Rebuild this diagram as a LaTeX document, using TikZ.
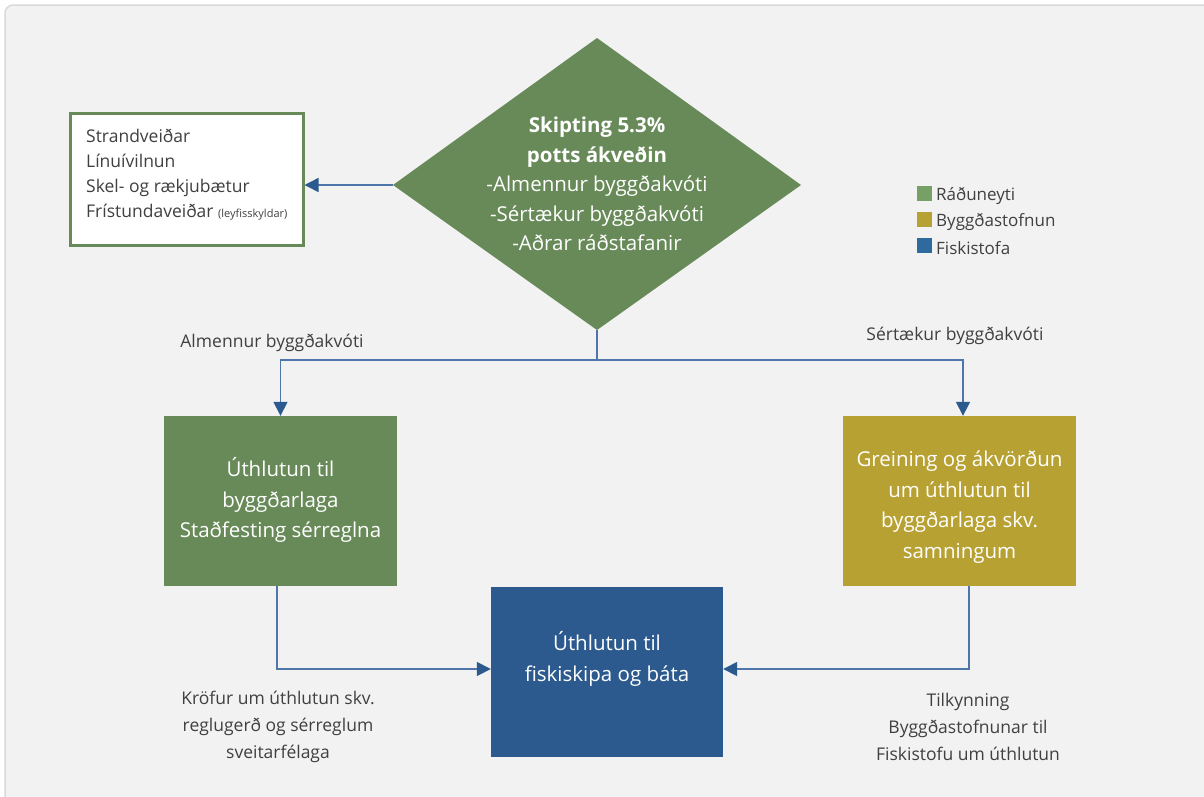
\documentclass[tikz,border=0pt]{standalone}
\usepackage{fontspec}
\setmainfont{Open Sans}
\usetikzlibrary{arrows.meta}
\definecolor{panel}{HTML}{F2F2F2}
\definecolor{panelline}{HTML}{D9D9D9}
\definecolor{mgreen}{HTML}{678A58}
\definecolor{lgreen}{HTML}{76A065}
\definecolor{mgold}{HTML}{B8A133}
\definecolor{mblue}{HTML}{2C5A8E}
\definecolor{lblue}{HTML}{2E6A9E}
\definecolor{conn}{HTML}{4E76AA}
\definecolor{tip}{HTML}{2B5A8F}
\definecolor{txt}{HTML}{404040}
\tikzset{
  x=1pt,y=-1pt,
  conline/.style={draw=conn,line width=1.5pt},
  arr/.style={conline,-{Triangle[width=14pt,length=14pt,fill=tip,color=tip]}},
  boxstyle/.style={rectangle,inner sep=0pt,minimum width=233pt,minimum height=170pt},
  boxtext/.style={text=white,align=center,font=\fontsize{20.5}{30.5}\selectfont},
  lab/.style={text=txt,align=center,font=\fontsize{17.5}{27}\selectfont},
  legbox/.style={rectangle,inner sep=0pt,minimum width=15pt,minimum height=15pt},
  legtext/.style={text=txt,anchor=west,inner sep=0pt,font=\fontsize{17}{20}\selectfont},
}
\begin{document}
\begin{tikzpicture}
\useasboundingbox (0,0) rectangle (1204,796);
\fill[white] (0,0) rectangle (1204,796);
\draw[panelline,fill=panel,line width=1.5pt,rounded corners=8pt] (5,5) rectangle (1215,810);

% left box
\node[rectangle,draw=mgreen,line width=3pt,fill=white,minimum width=233pt,minimum height=132pt,inner sep=0pt] (lbox) at (186.5,179) {};
\node[anchor=west,text=txt,align=left,inner sep=0pt,font=\fontsize{17.5}{25}\selectfont] (ltext) at (86,175)
 {Strandveiðar\\Línuívilnun\\Skel- og rækjubætur\\Frístundaveiðar {\fontsize{11}{12}\selectfont(leyfisskyldar)}};

% diamond
\coordinate (diaN) at (597,38);
\coordinate (diaW) at (393,185);
\coordinate (diaE) at (801,185);
\coordinate (diaS) at (597,330);
\fill[mgreen] (diaN) -- (diaE) -- (diaS) -- (diaW) -- cycle;
\node[text=white,align=center,font=\fontsize{20.5}{29.5}\selectfont] (dia) at (597,184)
 {\textbf{Skipting 5.3\%}\\\textbf{potts ákveðin}\\-Almennur byggðakvóti\\-Sértækur byggðakvóti\\-Aðrar ráðstafanir};

% boxes
\node[boxstyle,fill=mgreen] (gbox) at (280.5,501) {};
\node[boxtext] (gtext) at (280.5,500) {Úthlutun til\\byggðarlaga\\Staðfesting sérreglna};
\node[boxstyle,fill=mgold] (ybox) at (959.5,501) {};
\node[boxtext] (ytext) at (959.5,507) {Greining og ákvörðun\\um úthlutun til\\byggðarlaga skv.\\samningum};
\node[boxstyle,minimum width=232pt,fill=mblue] (bbox) at (607,672) {};
\node[boxtext] (btext) at (607,659) {Úthlutun til\\fiskiskipa og báta};

% connectors
\draw[arr] (diaW) -- (lbox.east |- diaW);
\coordinate (j) at (597,360);
\draw[conline] (diaS) -- (j);
\draw[arr] (j) -| (gbox.north);
\draw[arr] (j) -| ([xshift=3.5pt]ybox.north);
\draw[arr] ([xshift=-3.5pt]gbox.south) |- ([yshift=3pt]bbox.west);
\draw[arr] ([xshift=9.5pt]ybox.south) |- ([yshift=3pt]bbox.east);

% labels
\node[lab] (l1) at (272,343) {Almennur byggðakvóti};
\node[lab] (l2) at (955,336) {Sértækur byggðakvóti};
\node[lab] (l3) at (278,727) {Kröfur um úthlutun skv.\\reglugerð og sérreglum\\sveitarfélaga};
\node[lab] (l4) at (968,727) {Tilkynning\\Byggðastofnunar til\\Fiskistofu um úthlutun};

% legend
\node[legbox,fill=lgreen] (lg1) at (924.5,193) {};
\node[legtext] (lt1) at (936,196) {Ráðuneyti};
\node[legbox,fill=mgold] (lg2) at (924.5,219) {};
\node[legtext] (lt2) at (936,222) {Byggðastofnun};
\node[legbox,fill=lblue] (lg3) at (924.5,245) {};
\node[legtext] (lt3) at (936,248) {Fiskistofa};
\end{tikzpicture}
\end{document}
